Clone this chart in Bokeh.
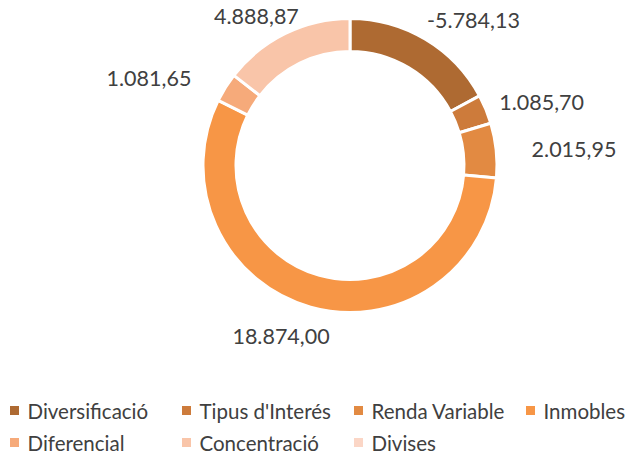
import math
from bokeh.plotting import figure
from bokeh.models import Range1d, ColumnDataSource
from bokeh.core.properties import value
from bokeh.embed import file_html
from bokeh.resources import INLINE

# ---- data ----
categories = ["Diversificació", "Tipus d'Interés", "Renda Variable", "Inmobles",
              "Diferencial", "Concentració", "Divises"]
values = [-5784.13, 1085.70, 2015.95, 18874.00, 1081.65, 4888.87, 0.0]
colors = ["#AE6A32", "#CD7B3B", "#E28A42", "#F79646", "#F6AA7A", "#F9C5A9", "#FBD6C6"]

# ---- layout / style ----
W, H = 627, 454
FONT = "Lato"
FS = "21.5px"
LEG_FS = "20.5px"
TXT = "#404040"
TOP = 470                      # data y of the picture's top edge
CX, CY = 349.5, TOP - 165      # donut centre
R_OUT, R_IN = 147, 114
R_LAB = 190
# per-label nudges (screen px, +y down) relative to the polar anchor
nudges = {"Diversificació": (26, 18), "Tipus d'Interés": (16, 10),
          "Renda Variable": (35, 4), "Inmobles": (-18, -12),
          "Diferencial": (-40, 14), "Concentració": (-10, 22)}
LEG_ROWS = [410, 442]          # legend row centres (px from top)
LEG_X0, LEG_COL_W = 14, 172


def fmt(v):
    s = f"{v:,.2f}"
    return s.replace(",", "X").replace(".", ",").replace("X", ".")


total = sum(abs(v) for v in values)
starts, ends, mids = [], [], []
cum = 0.0
for v in values:
    a0 = cum / total
    cum += abs(v)
    a1 = cum / total
    starts.append(math.pi / 2 - 2 * math.pi * a0)
    ends.append(math.pi / 2 - 2 * math.pi * a1)
    mids.append(2 * math.pi * (a0 + a1) / 2)

keep = [i for i, v in enumerate(values) if v != 0]

p = figure(width=W, height=H, x_range=Range1d(0, W), y_range=Range1d(TOP - H, TOP),
           output_backend="svg", toolbar_location=None, x_axis_type=None, y_axis_type=None,
           min_border=0, outline_line_color=None, background_fill_color="white",
           border_fill_color="white")
p.grid.visible = False

wsrc = ColumnDataSource(dict(
    start=[starts[i] for i in keep], end=[ends[i] for i in keep],
    color=[colors[i] for i in keep]))
p.annular_wedge(x=CX, y=CY, inner_radius=R_IN, outer_radius=R_OUT,
                start_angle="start", end_angle="end", direction="clock",
                fill_color="color", line_color="white", line_width=3, source=wsrc)

lsrc = ColumnDataSource(dict(
    x=[CX + R_LAB * math.sin(mids[i]) for i in keep],
    y=[CY + R_LAB * math.cos(mids[i]) for i in keep],
    dx=[nudges[categories[i]][0] for i in keep],
    dy=[nudges[categories[i]][1] for i in keep],
    t=[fmt(values[i]) for i in keep]))
p.text(x="x", y="y", text="t", x_offset="dx", y_offset="dy", source=lsrc,
       text_font=value(FONT), text_font_size=FS, text_color=TXT,
       text_align="center", text_baseline="middle")

# ---- legend (drawn manually, 4 columns) ----
lx, ly = [], []
for k, c in enumerate(categories):
    row, col = divmod(k, 4)
    lx.append(LEG_X0 + col * LEG_COL_W)
    ly.append(TOP - LEG_ROWS[row])
gsrc = ColumnDataSource(dict(x=lx, y=ly, tx=[x + 13 for x in lx], c=colors, t=categories))
p.scatter(x="x", y="y", marker="square", size=9, fill_color="c", line_color=None, source=gsrc)
p.text(x="tx", y="y", text="t", source=gsrc, text_font=value(FONT), text_font_size=LEG_FS,
       text_color=TXT, text_align="left", text_baseline="middle")

open("out.html", "w").write(file_html(p, INLINE))
